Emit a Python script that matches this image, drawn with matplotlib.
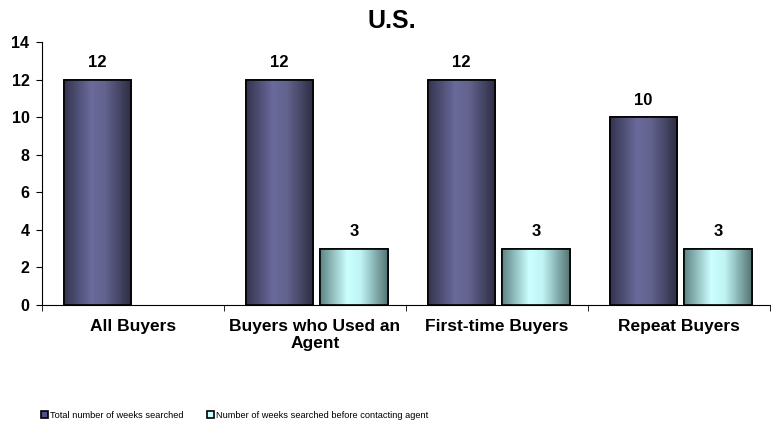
import matplotlib
matplotlib.use("Agg")
import matplotlib.pyplot as plt
import numpy as np
from matplotlib.colors import LinearSegmentedColormap
from matplotlib.patches import Patch
from matplotlib.ticker import FixedLocator

categories = ["All Buyers", "Buyers who Used an\nAgent", "First-time Buyers", "Repeat Buyers"]
total_weeks = [12, 12, 12, 10]
before_agent = [None, 3, 3, 3]
series_names = ["Total number of weeks searched", "Number of weeks searched before contacting agent"]
title = "U.S."

plt.rcParams['font.family'] = ['Liberation Sans', 'DejaVu Sans']

fig = plt.figure(figsize=(7.71, 4.29), dpi=100)
ax = fig.add_axes([42/771, 1-305/429, 728/771, 263/429])

x = np.arange(len(categories))
w = 0.37
off1, off2 = -0.195, 0.215

purple_cmap = LinearSegmentedColormap.from_list("p", [(0, "#34344f"), (0.4, "#6a6a9c"), (0.6, "#63638f"), (1, "#2c2c42")])
cyan_cmap = LinearSegmentedColormap.from_list("c", [(0, "#5e8484"), (0.4, "#ccffff"), (0.6, "#c0f4f4"), (1, "#557474")])

b1 = ax.bar(x + off1, total_weeks, w, color="#60609a", edgecolor="black", linewidth=1.2, zorder=2)
vals2 = [v if v is not None else 0 for v in before_agent]
b2 = ax.bar(x + off2, vals2, w, color="#ccffff", edgecolor="black", linewidth=1.2, zorder=2)

grad = np.linspace(0, 1, 256).reshape(1, -1)
for bars, cmap, vals in [(b1, purple_cmap, total_weeks), (b2, cyan_cmap, before_agent)]:
    for bar, v in zip(bars, vals):
        if v is None:
            bar.set_visible(False)
            continue
        x0, y0 = bar.get_x(), bar.get_y()
        bw, bh = bar.get_width(), bar.get_height()
        im = ax.imshow(grad, cmap=cmap, aspect="auto", extent=(x0, x0 + bw, y0, y0 + bh), zorder=2.1)
        im.set_clip_path(bar)
        edge = plt.Rectangle((x0, y0), bw, bh, fill=False, edgecolor="black", linewidth=1.2, zorder=2.2)
        ax.add_patch(edge)
        ax.text(x0 + bw/2, v + 0.5, f"{v}", ha="center", va="bottom", fontsize=12, fontweight="bold")

ax.set_xlim(-0.5, 3.5)
ax.set_ylim(0, 14)
ax.set_yticks(range(0, 15, 2))
ax.set_xticks(x)
ax.xaxis.set_minor_locator(FixedLocator([-0.5, 0.5, 1.5, 2.5, 3.5]))
ax.set_xticklabels(categories, fontsize=12.5, fontweight="bold", linespacing=1.15)
for lab in ax.get_yticklabels():
    lab.set_fontweight("bold")
    lab.set_fontsize(11.5)
ax.tick_params(axis="x", which="major", length=0, pad=10)
ax.tick_params(axis="x", which="minor", length=4, direction="out")
ax.tick_params(axis="y", length=4, direction="out", pad=5)
ax.spines["top"].set_visible(False)
ax.spines["right"].set_visible(False)
fig.text(392/771, 1-28/429, title, ha="center", va="baseline", fontsize=18, fontweight="bold")

colors = ["#50508a", "#ccffff"]
xpos = [41/771, 207/771]
for name, c, xp in zip(series_names, colors, xpos):
    h = Patch(facecolor=c, edgecolor="black", linewidth=1.2)
    fig.legend([h], [name], loc="center left", bbox_to_anchor=(xp, 1-415/429),
               frameon=False, fontsize=6.7,
               handlelength=0.75, handleheight=0.75, handletextpad=0.2, borderpad=0, borderaxespad=0)

fig.savefig("out.png", dpi=100)
